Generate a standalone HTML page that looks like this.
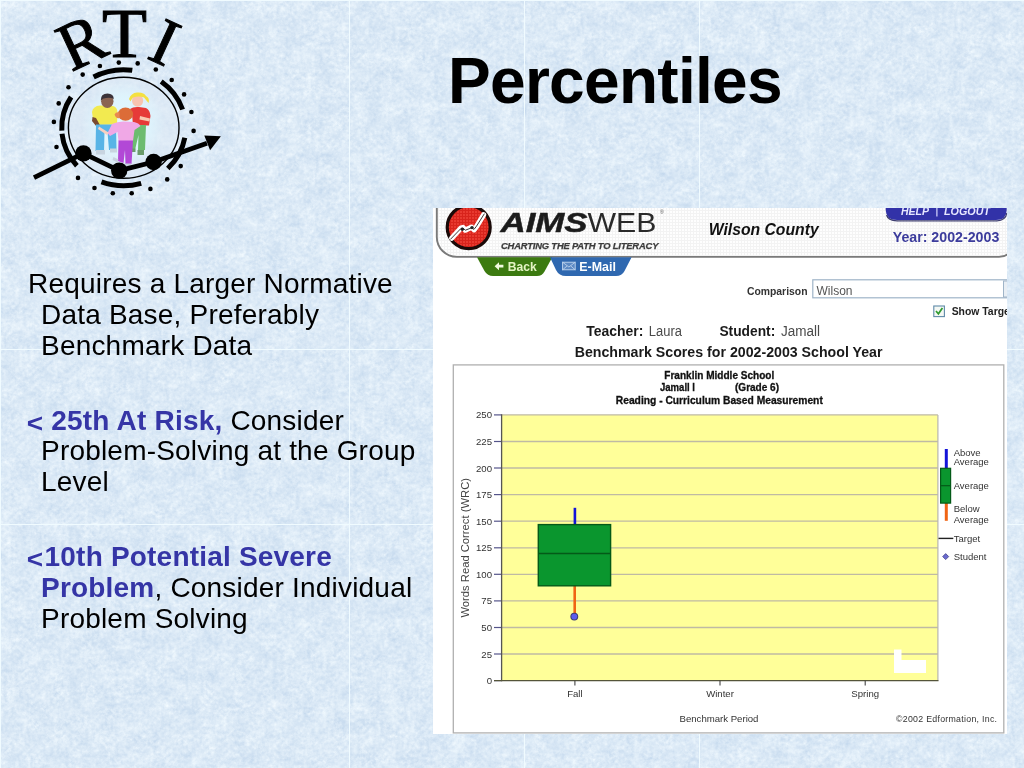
<!DOCTYPE html>
<html>
<head>
<meta charset="utf-8">
<title>Percentiles</title>
<style>
html,body{margin:0;padding:0;}
body{width:1024px;height:768px;overflow:hidden;position:relative;background:#dcebf7;font-family:"Liberation Sans",sans-serif;color:#000;}
.abs{position:absolute;}
#title,.ln,#shot{will-change:transform;}
#tex{position:absolute;left:0;top:0;width:1024px;height:768px;}
.seamv{position:absolute;top:0;width:1px;height:768px;background:#f0fbff;}
.seamh{position:absolute;left:0;height:1px;width:1024px;background:#f0fbff;}
#title{position:absolute;left:448px;top:45px;font-size:64px;font-weight:bold;line-height:72px;white-space:nowrap;letter-spacing:-0.7px;}
.ln{position:absolute;font-size:28px;line-height:31px;white-space:nowrap;letter-spacing:0.2px;}
.bl{color:#3535a6;font-weight:bold;}
.lt{position:relative;top:1.8px;left:-1.2px;display:inline-block;transform:scale(1.0,0.9);transform-origin:0 80%;}
#shot{overflow:hidden;background:#fff;}
#shotg{filter:blur(0.4px);}
</style>
</head>
<body>
<svg id="tex" width="1024" height="768">
  <defs>
    <filter id="nz" x="0" y="0" width="100%" height="100%" color-interpolation-filters="sRGB">
      <feTurbulence type="fractalNoise" baseFrequency="0.26" numOctaves="3" seed="11" result="f"/>
      <feTurbulence type="fractalNoise" baseFrequency="0.06" numOctaves="2" seed="5" result="c"/>
      <feComposite in="f" in2="c" operator="arithmetic" k1="0" k2="0.55" k3="0.45" k4="0" result="m"/>
      <feColorMatrix in="m" type="matrix" values="0.26 0 0 0 0.730  0.19 0 0 0 0.820  0.10 0 0 0 0.915  0 0 0 0 1"/>
    </filter>
  </defs>
  <rect width="1024" height="768" filter="url(#nz)"/>
</svg>
<div class="seamv" style="left:0px"></div>
<div class="seamh" style="top:0px"></div>
<div class="seamv" style="left:349px"></div>
<div class="seamv" style="left:524px"></div>
<div class="seamv" style="left:699px"></div>
<div class="seamh" style="top:349px"></div>
<div class="seamh" style="top:524px"></div>

<!-- LOGO -->
<svg class="abs" style="left:0;top:0" width="300" height="225" viewBox="0 0 300 225">
<defs><radialGradient id="glow" cx="50%" cy="50%" r="50%"><stop offset="0" stop-color="#e4f8ff" stop-opacity="1"/><stop offset="0.62" stop-color="#def4fd" stop-opacity="1"/><stop offset="1" stop-color="#dcf0fa" stop-opacity="0"/></radialGradient></defs>
<ellipse cx="123.7" cy="127.7" rx="55.3" ry="50.5" fill="#dde9f5" fill-opacity="0.6"/>
<ellipse cx="123" cy="124" rx="42" ry="44" fill="url(#glow)"/>
<path d="M92 112 Q93 106 100 105.5 L113 106 Q117 107 117.5 112 L117 124.5 L96 125 L96 119 L93 119 Z" fill="#f2ea50"/>
<path d="M92.5 117 L96 118 L101 127 L98.5 129 L92 121 Z" fill="#7a4a30"/>
<path d="M96 124.5 L116 124.5 L116.5 150 L109 150 L107.5 132 L104.5 132 L104 151 L95.5 151 Z" fill="#58b4e6"/>
<path d="M96 150 H105 V154.5 H96 Z M110 148.5 H117 V152.5 H110 Z" fill="#c8d4e0"/>
<ellipse cx="107.3" cy="101.3" rx="6.2" ry="6.6" fill="#8a6452"/>
<path d="M100.8 100.5 Q100.6 93.6 107.5 93.6 Q113.8 94 113.8 99 Q110 97 106 98 Q102.5 98.2 100.8 100.5Z" fill="#3a3238"/>
<path d="M130 109 Q133 106.5 139 107 L146 108 Q150 110 150.5 116 L149 125.5 L133 125.5 L132 114 Z" fill="#e63a38"/>
<path d="M140 116 L150 118.5 L149.5 121.5 L139.5 119.5 Z" fill="#f8c8b0"/>
<path d="M133 125 L146 125 L145 150 L138 150 L138.5 135 L135 150 L130.5 149 Z" fill="#6cbc70"/>
<path d="M130 148.5 H135.5 V152 H130 Z M137.5 150 H144 V155 H137.5 Z" fill="#6a9a6a"/>
<ellipse cx="137.6" cy="100.6" rx="5.6" ry="6.2" fill="#f8c4b0"/>
<path d="M129 99 Q131 93 137 92.5 Q144 92 146 96 Q150 98 148.5 103 Q146 100 144 97.5 Q139 95.5 133 97.5 Q131.5 99.5 130.5 101.5 Z" fill="#f4e040"/>
<path d="M112 124 Q118 121 125 121.5 L134 122 Q139 123 140.5 126 L134.5 130 L133 141 L118.5 141 L117.5 132 L110 136 L107.5 133 Z" fill="#f0a8e6"/>
<path d="M118.5 140.5 L133 140.5 L131.5 164 L125.5 164 L125 150 L123.5 163 L118 161 Z" fill="#b248d6"/>
<path d="M113.5 157 L118.5 159.5 L117.5 162.5 L112.5 160 Z M125.5 163.5 H131.5 V166.5 H125.5 Z" fill="#c8d0e0"/>
<path d="M99 126.5 L108.5 132.5 L107 135 L98 129 Z" fill="#f8d0c0"/>
<ellipse cx="125.5" cy="114.2" rx="7.6" ry="6.6" fill="#dc6c38"/>
<path d="M114.5 114.5 Q116 111.5 119.5 112.5 L119.5 118 Q116 119 114.5 114.5Z" fill="#e88850"/>
<ellipse cx="123.7" cy="127.7" rx="55.3" ry="50.5" fill="none" stroke="#000" stroke-width="1.4"/>
<g fill="none" stroke="#000" stroke-width="5">
<path d="M93.6 77.0A62 58 0 0 1 132.3 70.3"/>
<path d="M161.2 81.5A62 58 0 0 1 182.6 109.5"/>
<path d="M71.1 97.0A62 58 0 0 0 61.8 130.7"/>
<path d="M62.0 133.8A62 58 0 0 0 76.9 165.8"/>
<path d="M101.5 181.8A62 58 0 0 0 141.2 183.3"/>
<path d="M184.8 137.8A62 58 0 0 1 167.8 168.5"/>
</g>
<g fill="#000"><circle cx="82.7" cy="74.6" r="2.3"/><circle cx="99.9" cy="66" r="2.3"/><circle cx="118.8" cy="62.6" r="2.3"/><circle cx="137.7" cy="63.4" r="2.3"/><circle cx="155.8" cy="69.5" r="2.3"/><circle cx="171.7" cy="80" r="2.3"/><circle cx="184.1" cy="94.4" r="2.3"/><circle cx="191.4" cy="112" r="2.3"/><circle cx="193.6" cy="130.9" r="2.3"/><circle cx="180.7" cy="166.1" r="2.3"/><circle cx="167.2" cy="179.4" r="2.3"/><circle cx="150.4" cy="188.9" r="2.3"/><circle cx="131.7" cy="193.2" r="2.3"/><circle cx="112.8" cy="193.2" r="2.3"/><circle cx="94.5" cy="188" r="2.3"/><circle cx="78" cy="177.9" r="2.3"/><circle cx="56.5" cy="147" r="2.3"/><circle cx="53.9" cy="121.9" r="2.3"/><circle cx="58.7" cy="103.4" r="2.3"/><circle cx="68.5" cy="87.3" r="2.3"/></g>
<path d="M34 177.7 L83.4 153.4 L119.2 170.6 L153.6 162 L207 143.3" fill="none" stroke="#000" stroke-width="4.8" stroke-linejoin="round"/>
<path d="M220.9 136.3 L204.3 135.6 L210.1 150.2 Z" fill="#000"/>
<circle cx="83.4" cy="153.4" r="8.2"/><circle cx="119.2" cy="170.6" r="8.2"/><circle cx="153.6" cy="162" r="8.2"/>
<g font-family="Liberation Serif, serif" font-size="67" fill="#000" stroke="#000" stroke-width="1" text-anchor="middle">
<text transform="translate(81.6 42.4) rotate(-25) scale(0.98 1.02)" x="0" y="22">R</text>
<text transform="translate(124.4 34.3) scale(1.1 1.04)" x="0" y="21.4">T</text>
<text transform="translate(164.9 42.4) rotate(24.7) scale(1.0 1)" x="0" y="22">I</text>
</g>
</svg>

<div id="title">Percentiles</div>

<div class="ln" style="left:28px;top:268px">Requires a Larger Normative</div>
<div class="ln" style="left:41px;top:299px">Data Base, Preferably</div>
<div class="ln" style="left:41px;top:330px">Benchmark Data</div>
<div class="ln" style="left:28px;top:405px"><span class="bl"><span class="lt" style="margin-right:-1.3px">&lt;</span> 25th At Risk,</span> Consider</div>
<div class="ln" style="left:41px;top:435px">Problem-Solving at the Group</div>
<div class="ln" style="left:41px;top:466px">Level</div>
<div class="ln" style="left:28px;top:541px"><span class="bl"><span class="lt">&lt;</span>10th Potential Severe</span></div>
<div class="ln" style="left:41px;top:572px"><span class="bl">Problem</span>, Consider Individual</div>
<div class="ln" style="left:41px;top:603px">Problem Solving</div>

<svg id="shot" class="abs" style="left:433px;top:208px" width="574" height="526" viewBox="433 208 574 526" font-family="Liberation Sans, sans-serif">
  <defs>
    <pattern id="grid" width="3" height="3" patternUnits="userSpaceOnUse"><rect width="3" height="3" fill="#fefefe"/><path d="M0 0.5H3M0.5 0V3" stroke="#f3f3f3" stroke-width="1"/></pattern>
    <pattern id="rgrid" width="3" height="3" patternUnits="userSpaceOnUse"><rect width="3" height="3" fill="#e83a30"/><path d="M0 0.5H3M0.5 0V3" stroke="#d8241c" stroke-width="1"/></pattern>
  </defs>
<g id="shotg">
  <rect x="433" y="208" width="574" height="526" fill="#fff"/>
  <!-- header -->
  <path d="M436.8 200 V236.9 A20 20 0 0 0 456.8 256.9 H999 Q1007 256.6 1013 250 V200 Z" fill="url(#grid)" stroke="#7a7a7a" stroke-width="1.9"/>
  <!-- logo circle -->
  <circle cx="468.7" cy="227.2" r="21.5" fill="url(#rgrid)" stroke="#1a0a08" stroke-width="3.2"/>
  <g transform="translate(0 -0.4)">
  <path d="M451.6 238.6 L461 228.4 L463 227.8 L465.4 230.6 L471.6 227.6 L474 230.2 L476.5 227 L483.6 215.2" fill="none" stroke="#fff" stroke-width="5.2" stroke-linecap="round" stroke-linejoin="round"/>
  <path d="M450.6 239.6 L461 228.8 L463 228.6 L465.4 230.6 L471.6 228.2 L474 229.8 L476.5 226.6 L484.2 214.4" fill="none" stroke="#3a3a3a" stroke-width="1" stroke-linecap="round" stroke-linejoin="round"/>
  <circle cx="462.3" cy="229.6" r="1.7" fill="#222"/><circle cx="472" cy="228" r="1.7" fill="#222"/>
  </g>
  <!-- AIMSweb -->
  <text x="500.5" y="232.1" font-size="28.2" font-weight="bold" font-style="italic" fill="#1c1c1c" stroke="#1c1c1c" stroke-width="0.5" textLength="87" lengthAdjust="spacingAndGlyphs">AIMS</text>
  <text x="587.4" y="232.1" font-size="28.2" fill="#2a2a2a" textLength="69" lengthAdjust="spacingAndGlyphs">WEB</text>
  <text x="660" y="213.5" font-size="5" fill="#555">®</text>
  <text x="501" y="248.9" font-size="9.4" font-weight="bold" font-style="italic" fill="#3c3c3c" stroke="#3c3c3c" stroke-width="0.25" textLength="157.4" lengthAdjust="spacing">CHARTING THE PATH TO LITERACY</text>
  <text x="708.7" y="234.6" font-size="16" font-weight="bold" font-style="italic" fill="#111" textLength="110" lengthAdjust="spacingAndGlyphs">Wilson County</text>
  <!-- help/logout -->
  <path d="M885.7 200 V210 Q886 220 897 220 H996 Q1006.7 220 1006.7 210 V200 Z" fill="#3232a8"/>
  <path d="M886.6 215 Q888 220.6 897 220.8 H997 Q1005.5 220.6 1006.9 213" fill="none" stroke="#1c1c58" stroke-width="1.3" opacity="0.85"/>
  <text x="901" y="215" font-size="10.5" font-weight="bold" font-style="italic" fill="#e8e8ff">HELP</text>
  <rect x="936.3" y="208" width="1.2" height="8.5" fill="#d8d8ff"/>
  <text x="944" y="215" font-size="10.5" font-weight="bold" font-style="italic" fill="#e8e8ff" textLength="46" lengthAdjust="spacingAndGlyphs">LOGOUT</text>
  <text x="892.7" y="242.4" font-size="14" font-weight="bold" fill="#3c3c9c" textLength="106.6" lengthAdjust="spacingAndGlyphs">Year: 2002-2003</text>
  <!-- buttons -->
  <path d="M477 257.3 L484.5 271 Q487.5 276 493 276 H537 Q542 276 544.5 271.5 L552.3 257.3 Z" fill="#3c7a10"/>
  <path d="M550 257.3 L556 270 Q559 276 566 276 H616 Q622 276 624.5 271 L631.6 257.3 Z" fill="#2f68b0"/>
  <path d="M494.6 266.2 L499 262.2 V264.8 H503.4 V267.6 H499 V270.2 Z" fill="#f2fbe0"/>
  <text x="507.8" y="270.6" font-size="12.5" font-weight="bold" fill="#e4f4c4" textLength="29" lengthAdjust="spacingAndGlyphs">Back</text>
  <rect x="562.6" y="262.2" width="12.6" height="7.6" fill="#5d8ac4" stroke="#c4d8f0" stroke-width="0.9"/>
  <path d="M562.6 262.2 L568.9 267 L575.2 262.2 M562.6 269.8 L567 266 M575.2 269.8 L570.8 266" fill="none" stroke="#c4d8f0" stroke-width="0.8"/>
  <text x="579.3" y="270.6" font-size="12.5" font-weight="bold" fill="#fff" textLength="36.6" lengthAdjust="spacingAndGlyphs">E-Mail</text>
  <!-- comparison -->
  <text x="746.9" y="295" font-size="11" font-weight="bold" fill="#333" textLength="60.6" lengthAdjust="spacingAndGlyphs">Comparison</text>
  <rect x="812.8" y="279.8" width="200" height="18" fill="#fff" stroke="#9fb4c8" stroke-width="1.2"/>
  <rect x="1003.5" y="281" width="10" height="16" fill="#e8eef4" stroke="#9fb4c8" stroke-width="1"/>
  <text x="816.5" y="294.5" font-size="12" fill="#555">Wilson</text>
  <rect x="933.8" y="306" width="10.6" height="10.6" fill="#f4f8f4" stroke="#5f8aa8" stroke-width="1.1"/>
  <path d="M936 311 L938.4 313.8 L942.4 308" fill="none" stroke="#2f9a2f" stroke-width="1.7"/>
  <text x="951.7" y="315.4" font-size="10.4" font-weight="bold" fill="#222">Show Target</text>
  <!-- teacher / student -->
  <text x="586.3" y="336.2" font-size="14" font-weight="bold" fill="#1a1a1a" textLength="57.1" lengthAdjust="spacingAndGlyphs">Teacher:</text>
  <text x="648.8" y="336.2" font-size="14" fill="#4a4a4a" textLength="33.1" lengthAdjust="spacingAndGlyphs">Laura</text>
  <text x="719.4" y="336.2" font-size="14" font-weight="bold" fill="#1a1a1a" textLength="55.9" lengthAdjust="spacingAndGlyphs">Student:</text>
  <text x="780.9" y="336.2" font-size="14" fill="#4a4a4a" textLength="39.1" lengthAdjust="spacingAndGlyphs">Jamall</text>
  <text x="574.7" y="356.9" font-size="14" font-weight="bold" fill="#1a1a1a" textLength="307.8" lengthAdjust="spacingAndGlyphs">Benchmark Scores for 2002-2003 School Year</text>
  <!-- CHART -->
  <g id="chart">
  <rect x="453.3" y="364.9" width="550.5" height="368" fill="#fff" stroke="#b0b0b0" stroke-width="1.3"/>
  <text x="719.3" y="379" font-size="10.2" font-weight="bold" fill="#111" stroke="#111" stroke-width="0.3" text-anchor="middle" textLength="110" lengthAdjust="spacingAndGlyphs">Franklin Middle School</text>
  <text x="719.3" y="403.6" font-size="10.2" font-weight="bold" fill="#111" stroke="#111" stroke-width="0.3" text-anchor="middle" textLength="207" lengthAdjust="spacingAndGlyphs">Reading - Curriculum Based Measurement</text>
  <text x="660" y="391.3" font-size="10.2" font-weight="bold" fill="#111" stroke="#111" stroke-width="0.3" textLength="35" lengthAdjust="spacingAndGlyphs">Jamall l</text>
  <text x="735" y="391.3" font-size="10.2" font-weight="bold" fill="#111" stroke="#111" stroke-width="0.3" textLength="44" lengthAdjust="spacingAndGlyphs">(Grade 6)</text>
  <rect x="501.6" y="414.9" width="436.3" height="265.7" fill="#ffff99"/>
  <path d="M501.6 414.9H937.9" stroke="#bfbaa4" stroke-width="1.3"/>
  <path d="M494 414.9H501.6" stroke="#55558a" stroke-width="1.2"/>
  <text x="492" y="418.4" font-size="9.6" fill="#333" text-anchor="end">250</text>
  <path d="M501.6 441.5H937.9" stroke="#bfbaa4" stroke-width="1.3"/>
  <path d="M494 441.5H501.6" stroke="#55558a" stroke-width="1.2"/>
  <text x="492" y="445.0" font-size="9.6" fill="#333" text-anchor="end">225</text>
  <path d="M501.6 468.0H937.9" stroke="#bfbaa4" stroke-width="1.3"/>
  <path d="M494 468.0H501.6" stroke="#55558a" stroke-width="1.2"/>
  <text x="492" y="471.5" font-size="9.6" fill="#333" text-anchor="end">200</text>
  <path d="M501.6 494.6H937.9" stroke="#bfbaa4" stroke-width="1.3"/>
  <path d="M494 494.6H501.6" stroke="#55558a" stroke-width="1.2"/>
  <text x="492" y="498.1" font-size="9.6" fill="#333" text-anchor="end">175</text>
  <path d="M501.6 521.2H937.9" stroke="#bfbaa4" stroke-width="1.3"/>
  <path d="M494 521.2H501.6" stroke="#55558a" stroke-width="1.2"/>
  <text x="492" y="524.7" font-size="9.6" fill="#333" text-anchor="end">150</text>
  <path d="M501.6 547.8H937.9" stroke="#bfbaa4" stroke-width="1.3"/>
  <path d="M494 547.8H501.6" stroke="#55558a" stroke-width="1.2"/>
  <text x="492" y="551.2" font-size="9.6" fill="#333" text-anchor="end">125</text>
  <path d="M501.6 574.3H937.9" stroke="#bfbaa4" stroke-width="1.3"/>
  <path d="M494 574.3H501.6" stroke="#55558a" stroke-width="1.2"/>
  <text x="492" y="577.8" font-size="9.6" fill="#333" text-anchor="end">100</text>
  <path d="M501.6 600.9H937.9" stroke="#bfbaa4" stroke-width="1.3"/>
  <path d="M494 600.9H501.6" stroke="#55558a" stroke-width="1.2"/>
  <text x="492" y="604.4" font-size="9.6" fill="#333" text-anchor="end">75</text>
  <path d="M501.6 627.5H937.9" stroke="#bfbaa4" stroke-width="1.3"/>
  <path d="M494 627.5H501.6" stroke="#55558a" stroke-width="1.2"/>
  <text x="492" y="631.0" font-size="9.6" fill="#333" text-anchor="end">50</text>
  <path d="M501.6 654.0H937.9" stroke="#bfbaa4" stroke-width="1.3"/>
  <path d="M494 654.0H501.6" stroke="#55558a" stroke-width="1.2"/>
  <text x="492" y="657.5" font-size="9.6" fill="#333" text-anchor="end">25</text>
  <path d="M494 680.6H501.6" stroke="#55558a" stroke-width="1.2"/>
  <text x="492" y="684.1" font-size="9.6" fill="#333" text-anchor="end">0</text>
  <path d="M937.9 414.9V680.6" stroke="#b8b6b0" stroke-width="1.2"/>
  <path d="M501.6 414.3V681.2" stroke="#555" stroke-width="1.3"/>
  <path d="M494 680.6H938.5" stroke="#55553a" stroke-width="1.4"/>
  <path d="M574.9 680.6V685.5" stroke="#444" stroke-width="1.1"/>
  <text x="574.9" y="696.8" font-size="9.6" fill="#333" text-anchor="middle">Fall</text>
  <path d="M720 680.6V685.5" stroke="#444" stroke-width="1.1"/>
  <text x="720" y="696.8" font-size="9.6" fill="#333" text-anchor="middle">Winter</text>
  <path d="M865.2 680.6V685.5" stroke="#444" stroke-width="1.1"/>
  <text x="865.2" y="696.8" font-size="9.6" fill="#333" text-anchor="middle">Spring</text>
  <text x="719" y="722" font-size="9.6" fill="#333" text-anchor="middle">Benchmark Period</text>
  <text x="896" y="722" font-size="8.8" fill="#333" textLength="101" lengthAdjust="spacing">©2002 Edformation, Inc.</text>
  <text transform="translate(469 547.8) rotate(-90)" font-size="11" fill="#444" text-anchor="middle" textLength="139.6" lengthAdjust="spacingAndGlyphs">Words Read Correct (WRC)</text>
  <path d="M574.9 507.8V525" stroke="#1414d8" stroke-width="2.6"/>
  <path d="M574.7 585V614" stroke="#f06414" stroke-width="2.6"/>
  <rect x="538.3" y="524.6" width="72.3" height="61.2" fill="#0a962e" stroke="#045a18" stroke-width="1.4"/>
  <path d="M538.3 553.5H610.6" stroke="#045a18" stroke-width="1.4"/>
  <circle cx="574.3" cy="616.6" r="3.4" fill="#5c5cf0" stroke="#3c3c78" stroke-width="1.1"/>
  <path d="M894 649.5 H901.5 V660 H926 V673 H894 Z" fill="#fff"/>
  <path d="M946.3 449V468.5" stroke="#1414d8" stroke-width="3"/>
  <path d="M946.3 503V520.8" stroke="#f06414" stroke-width="3"/>
  <rect x="940.6" y="468.3" width="10" height="34.8" fill="#0a962e" stroke="#045a18" stroke-width="1.2"/>
  <path d="M940.6 485.7H950.6" stroke="#045a18" stroke-width="1.2"/>
  <text x="953.7" y="455.8" font-size="9.5" fill="#333">Above</text>
  <text x="953.7" y="464.9" font-size="9.5" fill="#333">Average</text>
  <text x="953.7" y="489.3" font-size="9.5" fill="#333">Average</text>
  <text x="953.7" y="512.4" font-size="9.5" fill="#333">Below</text>
  <text x="953.7" y="522.8" font-size="9.5" fill="#333">Average</text>
  <text x="953.7" y="541.8" font-size="9.5" fill="#333">Target</text>
  <text x="953.7" y="560" font-size="9.5" fill="#333">Student</text>
  <path d="M938.5 538.4H953.3" stroke="#222" stroke-width="1.4"/>
  <path d="M945.7 553.6L948.7 556.6L945.7 559.6L942.7 556.6Z" fill="#6a6ad0" stroke="#444488" stroke-width="0.8"/>
  </g>
</g>
</svg>

</body>
</html>
